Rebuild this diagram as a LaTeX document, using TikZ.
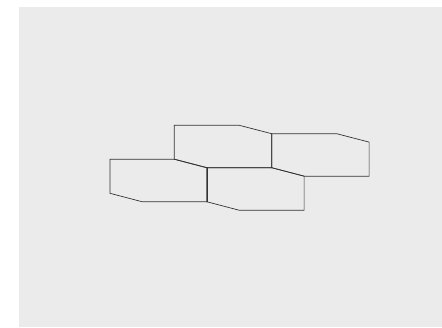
\documentclass[tikz,border=0pt]{standalone}
\usepackage{tikz}
\definecolor{panelgray}{HTML}{EBEBEB}
\definecolor{edgeink}{HTML}{333333}
\begin{document}
\begin{tikzpicture}[x=1bp,y=-1bp,
  panel/.style={fill=panelgray,draw=none},
  cellline/.style={draw=edgeink,line width=0.7bp,line join=miter}]
\useasboundingbox (0,0) rectangle (442,327);
\fill[panel] (18.5,7) rectangle (442,326.7);
% four tiles, each with the same outline
\foreach \cx/\cy in {174.3/125.3, 271.7/133.7, 110/159.3, 206.7/167.7}{
  \draw[cellline,shift={(\cx,\cy)}] (0,0) -- (65,0) -- (97.4,8.4) -- (97.4,42.5)
    -- (32.4,42.5) -- (0,34) -- cycle;
}
\end{tikzpicture}
\end{document}
